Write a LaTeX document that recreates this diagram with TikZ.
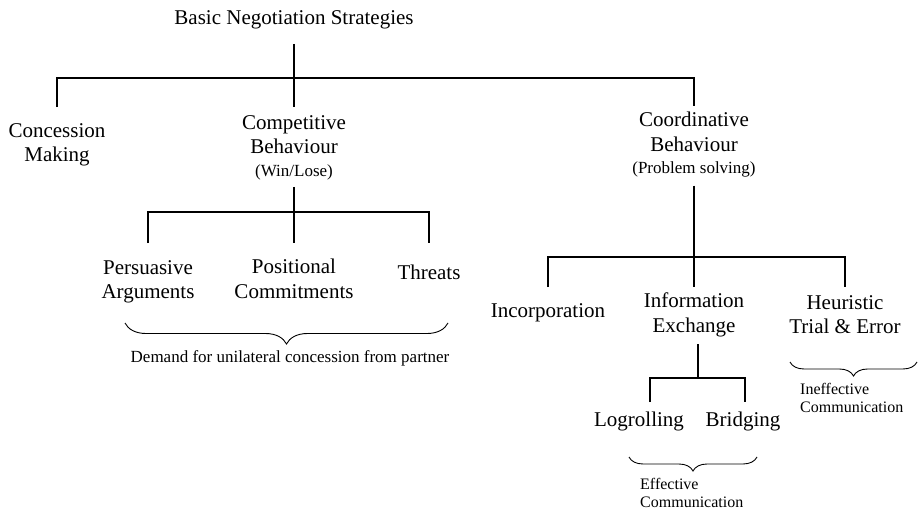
\documentclass[tikz,border=0pt]{standalone}
\usepackage{fontspec}
\setmainfont{Liberation Serif}
\usepackage{tikz}
\usetikzlibrary{decorations.pathreplacing}

\newcommand\lblfont{\fontsize{21}{24.5}\selectfont}
\newcommand\parfont{\fontsize{17}{20}\selectfont}
\newcommand\cmtfont{\fontsize{16}{18}\selectfont}

\tikzset{
  lbl/.style={font=\lblfont, align=center, inner sep=0pt, anchor=north},
  sub/.style={font=\parfont, align=center, inner sep=0pt, anchor=north},
  cmt/.style={font=\cmtfont, align=left, inner sep=0pt, anchor=north west},
  branch/.style={line width=2.8pt},
  curly/.style={decorate, decoration={brace, mirror, amplitude=#1}, line width=0.9pt},
}

\begin{document}
\begin{tikzpicture}[x=1pt,y=-1pt]
  \useasboundingbox (0,0) rectangle (924,511);

  % top level
  \node[lbl] (title) at (294,10) {Basic Negotiation Strategies};
  \node[lbl] (concession) at (57,123) {Concession\\Making};
  \node[lbl] (competitive) at (294,115) {Competitive\\Behaviour\\[-2pt]{\parfont (Win/Lose)}};
  \node[lbl] (coordinative) at (694,112) {Coordinative\\Behaviour\\[-2pt]{\parfont (Problem solving)}};

  % competitive branch
  \node[lbl] (persuasive) at (148,260) {Persuasive\\Arguments};
  \node[lbl] (positional) at (294,259) {Positional\\Commitments};
  \node[lbl] (threats) at (429,265) {Threats};
  \node[sub] (demand) at (290,350) {Demand for unilateral concession from partner};

  % coordinative branch
  \node[lbl] (incorporation) at (548,303) {Incorporation};
  \node[lbl] (infoex) at (694,293) {Information\\Exchange};
  \node[lbl] (heuristic) at (845,295) {Heuristic\\Trial \& Error};
  \node[cmt] (ineffective) at (800,383) {Ineffective\\Communication};

  % information exchange branch
  \node[lbl] (logrolling) at (639,412) {Logrolling};
  \node[lbl] (bridging) at (743,412) {Bridging};
  \node[cmt] (effective) at (640,478) {Effective\\Communication};

  \coordinate (fork1) at (294,78);
  \coordinate (fork2) at (294,212);
  \coordinate (fork3) at (694,257);
  \coordinate (fork4) at (698,378);

  \draw[branch] ([yshift=-15pt]title.south) -- ([yshift=8pt]competitive.north);
  \draw[branch] ([yshift=16pt]concession.north) |- (fork1) -| ([yshift=6pt]coordinative.north);

  \draw[branch] ([yshift=-7pt]competitive.south) -- ([yshift=16pt]positional.north);
  \draw[branch] ([yshift=17pt]persuasive.north) |- (fork2) -| ([yshift=22pt]threats.north);

  \draw[branch] ([yshift=-8pt]coordinative.south) -- ([yshift=6pt]infoex.north);
  \draw[branch] ([yshift=16pt]incorporation.north) |- (fork3) -| ([yshift=8pt]heuristic.north);

  \draw[branch] ([xshift=4pt,yshift=-7pt]infoex.south) -- (fork4);
  \draw[branch] ([xshift=11pt,yshift=10pt]logrolling.north) |- (fork4) -| ([xshift=2pt,yshift=10pt]bridging.north);

  % braces
  \draw[curly=21pt] (125,323) -- (448,323);
  \draw[curly=14pt] (790,362) -- (917,362);
  \draw[curly=14pt] (629,457) -- (757,457);
\end{tikzpicture}
\end{document}
